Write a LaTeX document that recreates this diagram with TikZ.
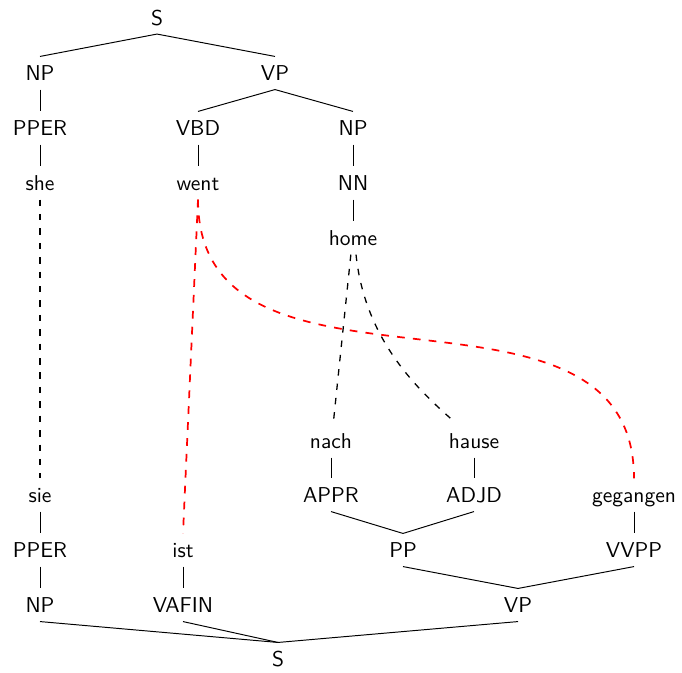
\documentclass[tikz,border=0pt]{standalone}
\begin{document}
\begin{tikzpicture}[x=0.465pt,y=-0.465pt,font=\sffamily,
  lbl/.style={text height=7pt,text depth=0pt,inner ysep=4pt,inner xsep=3pt},
  treeedge/.style={line width=0.45pt},
  blackdash/.style={line width=0.6pt,dash pattern=on 3pt off 3.7pt},
  reddash/.style={red,line width=0.8pt,dash pattern=on 3.6pt off 3.8pt}]
\useasboundingbox (0,0) rectangle (682,672);
% top tree (English)
\node[lbl] (s1) at (157,17.5) {S};
\node[lbl] (np1) at (40,73) {NP};
\node[lbl] (vp1) at (275,73) {VP};
\node[lbl] (pper1) at (40,128) {PPER};
\node[lbl] (vbd) at (198,128) {VBD};
\node[lbl] (np2) at (353,128) {NP};
\node[lbl] (she) at (40,183) {she};
\node[lbl] (went) at (198,183) {went};
\node[lbl] (nn) at (353,183) {NN};
\node[lbl] (home) at (353,238) {home};
% bottom tree (German)
\node[lbl] (nach) at (331,441) {nach};
\node[lbl] (hause) at (474,441) {hause};
\node[lbl] (sie) at (40,495) {sie};
\node[lbl] (appr) at (331,495) {APPR};
\node[lbl] (adjd) at (474,495) {ADJD};
\node[lbl] (geg) at (634,495) {gegangen};
\node[lbl] (pper2) at (40,550) {PPER};
\node[lbl] (ist) at (183,550) {ist};
\node[lbl] (pp) at (403,550) {PP};
\node[lbl] (vvpp) at (634,550) {VVPP};
\node[lbl] (np3) at (40,605) {NP};
\node[lbl] (vafin) at (183,605) {VAFIN};
\node[lbl] (vp2) at (518,605) {VP};
\node[lbl] (s2) at (278,659) {S};
% tree edges
\draw[treeedge] (s1.south) -- (np1.north);
\draw[treeedge] (s1.south) -- (vp1.north);
\draw[treeedge] (np1.south) -- (pper1.north);
\draw[treeedge] (vp1.south) -- (vbd.north);
\draw[treeedge] (vp1.south) -- (np2.north);
\draw[treeedge] (pper1.south) -- (she.north);
\draw[treeedge] (vbd.south) -- (went.north);
\draw[treeedge] (np2.south) -- (nn.north);
\draw[treeedge] (nn.south) -- (home.north);
\draw[treeedge] (nach.south) -- (appr.north);
\draw[treeedge] (hause.south) -- (adjd.north);
\draw[treeedge] (sie.south) -- (pper2.north);
\draw[treeedge] (appr.south) -- (pp.north);
\draw[treeedge] (adjd.south) -- (pp.north);
\draw[treeedge] (geg.south) -- (vvpp.north);
\draw[treeedge] (pper2.south) -- (np3.north);
\draw[treeedge] (ist.south) -- (vafin.north);
\draw[treeedge] (pp.south) -- (vp2.north);
\draw[treeedge] (vvpp.south) -- (vp2.north);
\draw[treeedge] (np3.south) -- (s2.north);
\draw[treeedge] (vafin.south) -- (s2.north);
\draw[treeedge] (vp2.south) -- (s2.north);
% alignments
\draw[blackdash] (she.south) -- (sie.north);
\draw[blackdash] ([xshift=-1pt]home.south) -- ([xshift=1pt]nach.north);
\draw[blackdash] ([xshift=1.4pt]home.south) .. controls +(9,87) and +(-34,-30) .. ([xshift=-9.3pt,yshift=1.4pt]hause.north);
\draw[reddash] (went.south) -- (ist.north);
\draw[reddash] (went.south) .. controls +(0,228) and +(0,-228) .. (geg.north);
\end{tikzpicture}
\end{document}
